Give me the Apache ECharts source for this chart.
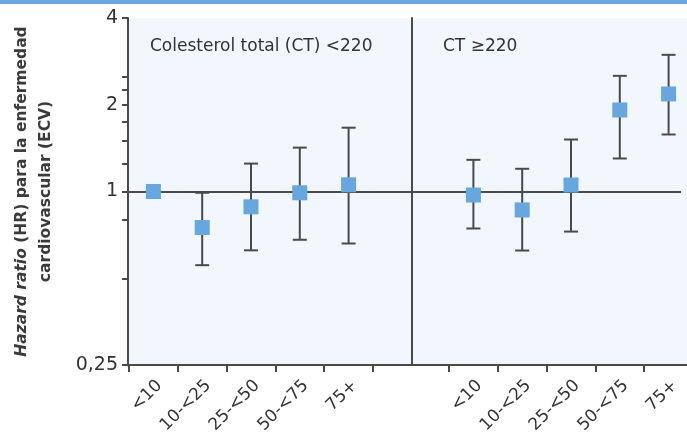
<!DOCTYPE html>
<html><head><meta charset="utf-8">
<script src="https://cdn.jsdelivr.net/npm/echarts@6/dist/echarts.min.js"></script>
<style>html,body{margin:0;padding:0;background:#fff}#c{width:687px;height:433px}</style>
</head><body><div id="c"></div>
<script>
// ---- data ----
const categories = ['<10', '10-<25', '25-<50', '50-<75', '75+'];
const panelTitles = ['Colesterol total (CT) <220', 'CT \u2265220'];
// CT < 220
const hrLowCT = [1.0, 0.75, 0.885, 0.99, 1.055];
const ciLoLowCT = [null, 0.555, 0.625, 0.68, 0.66];
const ciHiLowCT = [null, 0.99, 1.25, 1.42, 1.665];
// CT >= 220
const hrHighCT = [0.972, 0.863, 1.053, 1.918, 2.18];
const ciLoHighCT = [0.744, 0.624, 0.726, 1.302, 1.577];
const ciHiHighCT = [1.288, 1.199, 1.515, 2.52, 2.98];
const yTickValues = [0.25, 0.5, 0.8, 1, 1.25, 1.5, 1.75, 2, 2.25, 2.5, 4];
const yLabelValues = [0.25, 1, 2, 4];
const refValue = 1;

// ---- styles ----
const LINE = '#4a4a4a';
const TEXT = '#333333';
const BLUE = '#67a7dd';
const BG = '#f2f6fd';
const FONT = 'DejaVu Sans';

function errRender(params, api) {
  const x = api.value(0), lo = api.value(1), hi = api.value(2);
  const p1 = api.coord([x, lo]), p2 = api.coord([x, hi]);
  const w = 7;
  const style = { stroke: LINE, lineWidth: 2 };
  return { type: 'group', children: [
    { type: 'line', shape: { x1: p1[0], y1: p1[1], x2: p2[0], y2: p2[1] }, style },
    { type: 'line', shape: { x1: p1[0] - w, y1: p1[1], x2: p1[0] + w, y2: p1[1] }, style },
    { type: 'line', shape: { x1: p2[0] - w, y1: p2[1], x2: p2[0] + w, y2: p2[1] }, style }
  ]};
}
function errData(lo, hi) {
  return lo.map((v, i) => v == null ? null : [i, v, hi[i]]).filter(Boolean);
}
function yLabel(v) {
  const hit = yLabelValues.find(t => Math.abs(t - v) < 1e-6);
  return hit === undefined ? '' : String(hit).replace('.', ',');
}
const logY = { type: 'log', logBase: 2, min: 0.25, max: 4 };
const gridCommon = { top: 18, bottom: 68, containLabel: false, outerBoundsMode: 'none' };

const catX = (gridIndex) => ({
  type: 'category', gridIndex, data: categories, boundaryGap: true,
  axisLine: { show: false },
  axisTick: { show: true, length: 7, alignWithLabel: false, lineStyle: { color: LINE, width: 2 } },
  axisLabel: { rotate: 45, margin: 12, fontSize: 17, color: TEXT, fontFamily: FONT, interval: 0,
    align: 'right', verticalAlign: 'top' },
  splitLine: { show: false }
});

const chart = echarts.init(document.getElementById('c'), null, { renderer: 'canvas' });
chart.setOption({
  animation: false,
  textStyle: { fontFamily: FONT },
  title: [
    { text: panelTitles[0], left: 145, top: 33, textStyle: { fontSize: 17, fontWeight: 'normal', color: TEXT, fontFamily: FONT } },
    { text: panelTitles[1], left: 438, top: 33, textStyle: { fontSize: 17, fontWeight: 'normal', color: TEXT, fontFamily: FONT } }
  ],
  graphic: [
    { type: 'rect', left: 0, top: 0, shape: { width: 687, height: 4 }, style: { fill: BLUE }, z: 100 }
  ],
  grid: [
    Object.assign({ left: 128, right: 0, show: true, backgroundColor: BG, borderWidth: 0 }, gridCommon),
    Object.assign({ left: 128, right: 6 }, gridCommon),
    Object.assign({ left: 129, width: 244 }, gridCommon),
    Object.assign({ left: 449, width: 244 }, gridCommon)
  ],
  xAxis: [
    { type: 'value', gridIndex: 0, min: 0, max: 1, axisLine: { show: true, lineStyle: { color: LINE, width: 2 } },
      axisTick: { show: false }, axisLabel: { show: false }, splitLine: { show: false } },
    { type: 'value', gridIndex: 1, min: 0, max: 1, show: false },
    catX(2),
    catX(3)
  ],
  yAxis: [
    Object.assign({ gridIndex: 0, show: false }, logY),
    Object.assign({ gridIndex: 1,
      name: '{i|Hazard ratio} (HR) para la enfermedad\ncardiovascular (ECV)',
      nameLocation: 'middle', nameGap: 70,
      nameTextStyle: { fontSize: 15.5, fontWeight: 'bold', color: '#3a3a3a', lineHeight: 24, fontFamily: FONT, align: 'center',
        rich: { i: { fontStyle: 'italic', fontWeight: 'bold', fontSize: 15.5, lineHeight: 24, color: '#3a3a3a', fontFamily: FONT } } },
      axisLine: { show: true, lineStyle: { color: LINE, width: 2 } },
      axisTick: { show: true, length: 6, customValues: yTickValues, lineStyle: { color: LINE, width: 2 } },
      axisLabel: { show: true, customValues: yTickValues, margin: 10, fontSize: 19, color: TEXT, fontFamily: FONT,
        formatter: yLabel },
      splitLine: { show: false }
    }, logY),
    Object.assign({ gridIndex: 2, show: false }, logY),
    Object.assign({ gridIndex: 3, position: 'left', offset: 37,
      axisLine: { show: true, lineStyle: { color: LINE, width: 2 } },
      axisTick: { show: false }, axisLabel: { show: false }, splitLine: { show: false } }, logY)
  ],
  series: [
    { type: 'line', xAxisIndex: 1, yAxisIndex: 1, data: [], silent: true,
      markLine: { silent: true, symbol: 'none', label: { show: false },
        lineStyle: { color: LINE, width: 2, type: 'solid' }, data: [{ yAxis: refValue }] } },
    { type: 'custom', xAxisIndex: 2, yAxisIndex: 2, renderItem: errRender,
      encode: { x: 0, y: [1, 2] }, data: errData(ciLoLowCT, ciHiLowCT), z: 3 },
    { type: 'custom', xAxisIndex: 3, yAxisIndex: 3, renderItem: errRender,
      encode: { x: 0, y: [1, 2] }, data: errData(ciLoHighCT, ciHiHighCT), z: 3 },
    { type: 'scatter', xAxisIndex: 2, yAxisIndex: 2, symbol: 'rect', symbolSize: 15,
      itemStyle: { color: BLUE, opacity: 1 }, data: hrLowCT, z: 5 },
    { type: 'scatter', xAxisIndex: 3, yAxisIndex: 3, symbol: 'rect', symbolSize: 15,
      itemStyle: { color: BLUE, opacity: 1 }, data: hrHighCT, z: 5 }
  ]
});
</script>
</body></html>
